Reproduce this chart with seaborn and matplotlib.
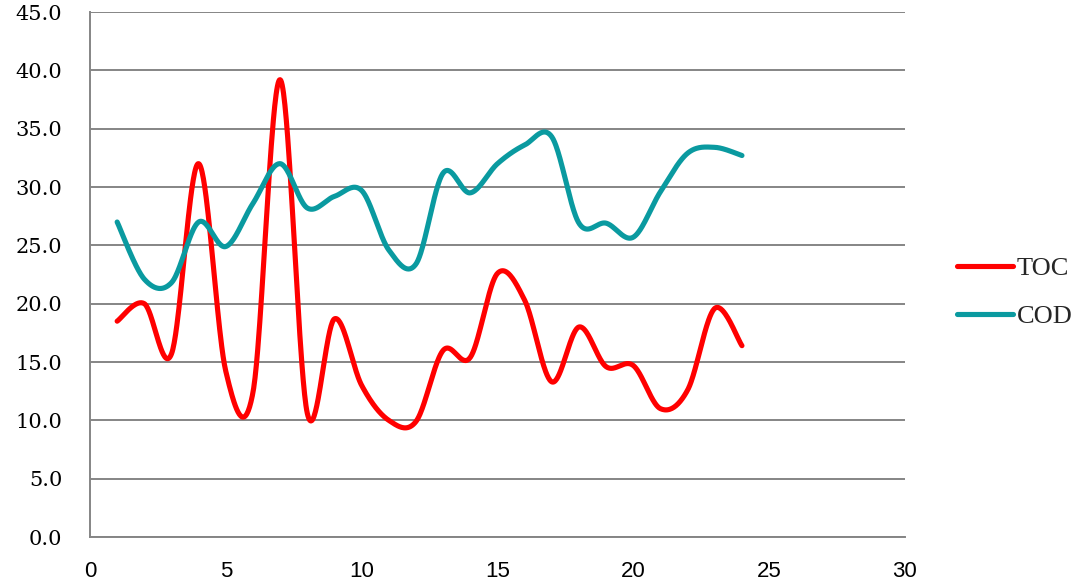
import numpy as np
import pandas as pd
import matplotlib
matplotlib.use("Agg")
import matplotlib.pyplot as plt
from matplotlib.lines import Line2D
import seaborn as sns

# Sample index and measured values
sample = list(range(1, 25))
toc = [18.5, 20.0, 15.7, 32.0, 14.2, 12.4, 39.2, 10.6, 18.7, 13.0, 10.0, 9.9,
       16.0, 15.4, 22.6, 20.3, 13.3, 18.0, 14.6, 14.7, 11.0, 12.6, 19.6, 16.4]
cod = [27.0, 22.1, 21.8, 27.0, 24.9, 28.6, 32.0, 28.2, 29.2, 29.7, 24.6, 23.4,
       31.2, 29.5, 32.0, 33.6, 34.3, 26.9, 26.9, 25.7, 29.6, 32.9, 33.4, 32.7]
series_names = ["TOC", "COD"]
colors = {"TOC": "#FF0000", "COD": "#0A9AA0"}

x_ticks = [0, 5, 10, 15, 20, 25, 30]
y_ticks = [0, 5, 10, 15, 20, 25, 30, 35, 40, 45]


def smooth_curve(xs, ys, steps=40):
    """Cubic Bezier smoothing through every point (Catmull-Rom style)."""
    p = np.column_stack([xs, ys]).astype(float)
    p_ext = np.vstack([p[0], p, p[-1]])
    out = []
    t = np.linspace(0, 1, steps, endpoint=False)[:, None]
    for i in range(1, len(p_ext) - 2):
        p0, p1, p2, p3 = p_ext[i - 1], p_ext[i], p_ext[i + 1], p_ext[i + 2]
        b1 = p1 + (p2 - p0) / 6.0
        b2 = p2 - (p3 - p1) / 6.0
        seg = ((1 - t) ** 3) * p1 + 3 * ((1 - t) ** 2) * t * b1 \
            + 3 * (1 - t) * t ** 2 * b2 + t ** 3 * p2
        out.append(seg)
    out.append(p[-1][None, :])
    return np.vstack(out)


frames = []
for name, vals in zip(series_names, [toc, cod]):
    c = smooth_curve(sample, vals)
    frames.append(pd.DataFrame({"x": c[:, 0], "y": c[:, 1], "series": name}))
df = pd.concat(frames, ignore_index=True)

sns.set_theme(style="white")
plt.rcParams["font.family"] = ["DejaVu Sans"]

fig = plt.figure(figsize=(10.79, 5.86), dpi=100)
ax = fig.add_axes([0.0834, 0.0836, 0.7553, 0.8959])

sns.lineplot(data=df, x="x", y="y", hue="series", hue_order=series_names,
             palette=colors, sort=False, estimator=None, units="series",
             linewidth=3.7, ax=ax, legend=False, solid_capstyle="round")

grid_c = "#858585"
ax.set_xlim(0, 30)
ax.set_ylim(0, 45)
ax.set_xticks(x_ticks)
ax.set_yticks(y_ticks)
ax.set_xticklabels([str(v) for v in x_ticks])
ax.set_yticklabels([f"{v:.1f}" for v in y_ticks])
ax.tick_params(axis="both", which="both", direction="out", length=6,
               width=1.4, color=grid_c, labelcolor="black")
ax.tick_params(axis="y", pad=14, labelsize=15)
ax.tick_params(axis="x", pad=11, labelsize=16)
for lbl in ax.get_yticklabels():
    lbl.set_family("DejaVu Serif")
    lbl.set_fontsize(15)
for lbl in ax.get_xticklabels():
    lbl.set_family("Liberation Sans")
    lbl.set_fontsize(16)
ax.set_xlabel("")
ax.set_ylabel("")

ax.yaxis.grid(True, color=grid_c, linewidth=1.4)
ax.xaxis.grid(False)
ax.set_axisbelow(True)
for side in ["top", "right"]:
    ax.spines[side].set_visible(False)
for side in ["left", "bottom"]:
    ax.spines[side].set_color(grid_c)
    ax.spines[side].set_linewidth(1.4)
ax.set_facecolor("white")

handles = [Line2D([0], [0], color=colors[n], linewidth=3.7,
                  solid_capstyle="round") for n in series_names]
fig.legend(handles, series_names, loc="center left",
           bbox_to_anchor=(0.865, 0.501), frameon=False, handlelength=2.1,
           handletextpad=0.15, labelspacing=0.95,
           prop={"family": "Liberation Serif", "size": 19})

fig.savefig("out.png", dpi=100, facecolor="white")
